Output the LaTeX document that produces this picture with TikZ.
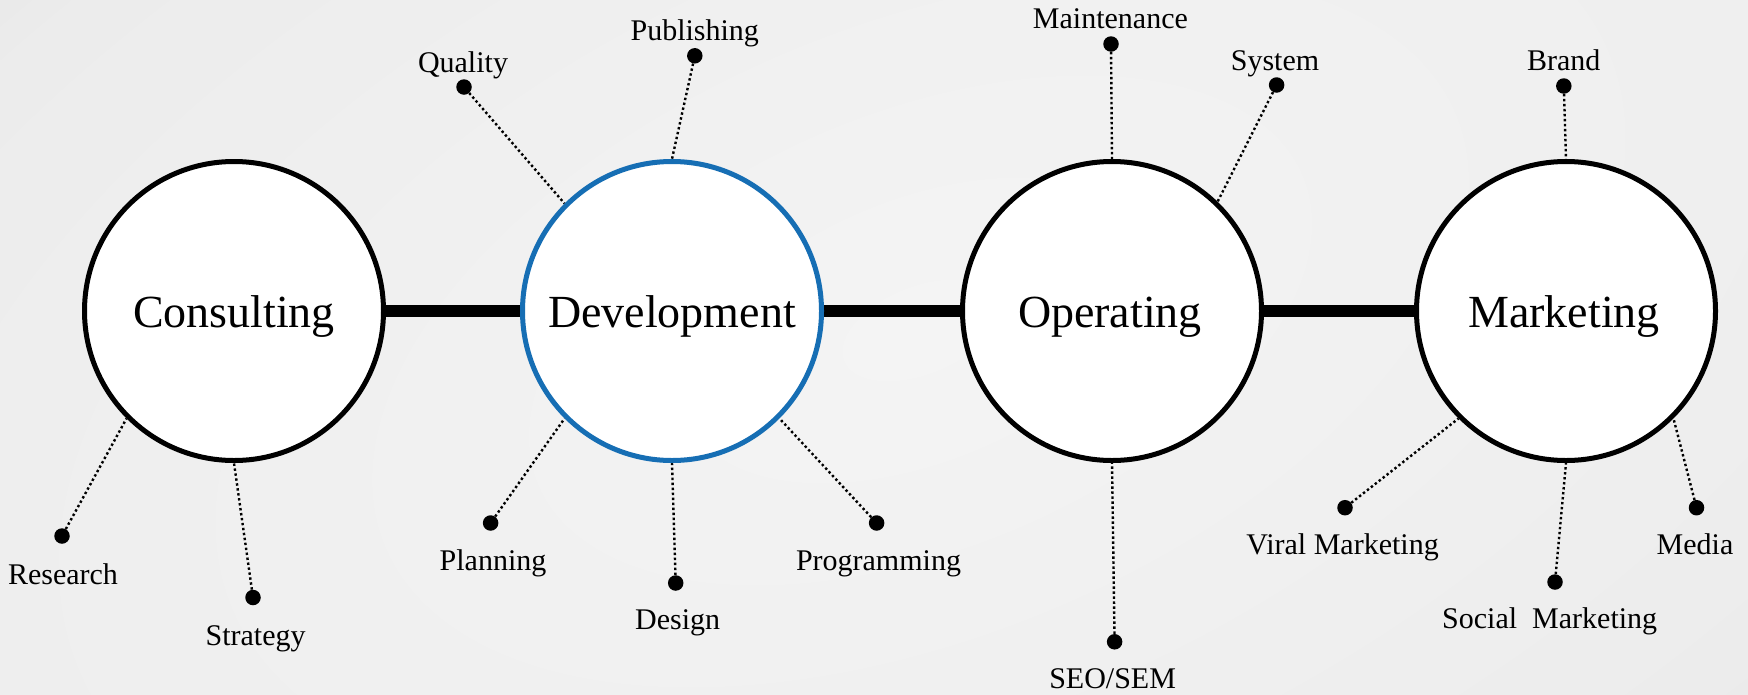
\documentclass[tikz,border=0pt]{standalone}
\usepackage{fontspec}
\setmainfont{Liberation Serif}
\definecolor{bgin}{RGB}{244,244,244}
\definecolor{bgmid}{RGB}{236,236,236}
\definecolor{bgout}{RGB}{196,196,196}
\definecolor{devblue}{RGB}{22,110,180}
\pgfdeclareradialshading{bgrad}{\pgfpoint{0bp}{0bp}}{color(0bp)=(bgin); color(22bp)=(bgmid); color(50bp)=(bgout)}
\pgfdeclarelayer{bglayer}
\pgfdeclarelayer{midlayer}
\pgfsetlayers{bglayer,midlayer,main}
\begin{document}
\begin{tikzpicture}[x=1pt,y=-1pt,
  hub/.style={circle, draw=black, line width=5pt, fill=white, minimum size=299pt, inner sep=0pt},
  hubtext/.style={font=\fontsize{46}{50}\selectfont, anchor=base, inner sep=0pt},
  bar/.style={line width=12pt},
  dotn/.style={circle, fill=black, minimum size=15.5pt, inner sep=0pt},
  dotline/.style={line width=2.4pt, dash pattern=on 2.4pt off 2.6pt},
  lbl/.style={font=\fontsize{30}{34}\selectfont, anchor=base, inner sep=0pt}]
\path[use as bounding box] (0,0) rectangle (1748,694);

\begin{pgfonlayer}{bglayer}
  \fill[bgout] (0,0) rectangle (1748,694);
  \begin{scope}
    \clip (0,0) rectangle (1748,694);
    \begin{scope}[transform canvas={rotate around={21.7:(920,330)}}]
      \shade[shading=bgrad] (920,330) ellipse [x radius=1500, y radius=800];
    \end{scope}
  \end{scope}
\end{pgfonlayer}

% hubs
\node[hub] (cons) at (234,311) {};
\node[hub] (dev) at (672,311) [draw=devblue] {};
\node[hub] (oper) at (1112,311) {};
\node[hub] (mark) at (1566,311) {};
\node[hubtext] (tcons) at (234,327.5) {Consulting};
\node[hubtext] (tdev) at (672,327.5) {Development};
\node[hubtext] (toper) at (1110,327.5) {Operating};
\node[hubtext] (tmark) at (1564,327.5) {Marketing};

% dots
\node[dotn] (dres) at (62,536) {};
\node[dotn] (dstr) at (253,597.5) {};
\node[dotn] (dqua) at (464,87) {};
\node[dotn] (dpla) at (490.6,523) {};
\node[dotn] (dpub) at (694.8,55.8) {};
\node[dotn] (ddes) at (675.7,583) {};
\node[dotn] (dpro) at (876.6,523) {};
\node[dotn] (dmai) at (1111,44) {};
\node[dotn] (dsys) at (1276.6,85) {};
\node[dotn] (dseo) at (1114.6,641.8) {};
\node[dotn] (dbra) at (1563.8,86) {};
\node[dotn] (dvir) at (1345,507.7) {};
\node[dotn] (dsoc) at (1555,582) {};
\node[dotn] (dmed) at (1696.5,507.7) {};

% labels
\node[lbl] (lres) at (63,584) {Research};
\node[lbl] (lstr) at (255.6,645) {Strategy};
\node[lbl] (lqua) at (463,72) {Quality};
\node[lbl] (lpla) at (493,570) {Planning};
\node[lbl] (lpub) at (694.8,40.7) {Publishing};
\node[lbl] (ldes) at (677.6,629) {Design};
\node[lbl] (lpro) at (878.5,570) {Programming};
\node[lbl] (lmai) at (1110.4,28.8) {Maintenance};
\node[lbl] (lsys) at (1275,70) {System};
\node[lbl] (lseo) at (1112.6,688) {SEO/SEM};
\node[lbl] (lbra) at (1563.8,70) {Brand};
\node[lbl] (lvir) at (1342.6,554) {Viral Marketing};
\node[lbl] (lsoc) at (1549.7,628.5) {Social\ \ Marketing};
\node[lbl] (lmed) at (1695,554) {Media};

\begin{pgfonlayer}{midlayer}
  \draw[bar] (cons) -- (dev);
  \draw[bar] (dev) -- (oper);
  \draw[bar] (oper) -- (mark);
  \draw[dotline] (dres) -- (cons.225);
  \draw[dotline] (dstr) -- (cons.270);
  \draw[dotline] (dqua) -- (dev.135);
  \draw[dotline] (dpub) -- (dev.90);
  \draw[dotline] (dpla) -- (dev.225);
  \draw[dotline] (ddes) -- (dev.270);
  \draw[dotline] (dpro) -- (dev.315);
  \draw[dotline] (dmai) -- (oper.90);
  \draw[dotline] (dsys) -- (oper.46);
  \draw[dotline] (dseo) -- (oper.270);
  \draw[dotline] (dbra) -- (mark.90);
  \draw[dotline] (dvir) -- (mark.225);
  \draw[dotline] (dsoc) -- (mark.270);
  \draw[dotline] (dmed) -- (mark.315);
\end{pgfonlayer}
\end{tikzpicture}
\end{document}
